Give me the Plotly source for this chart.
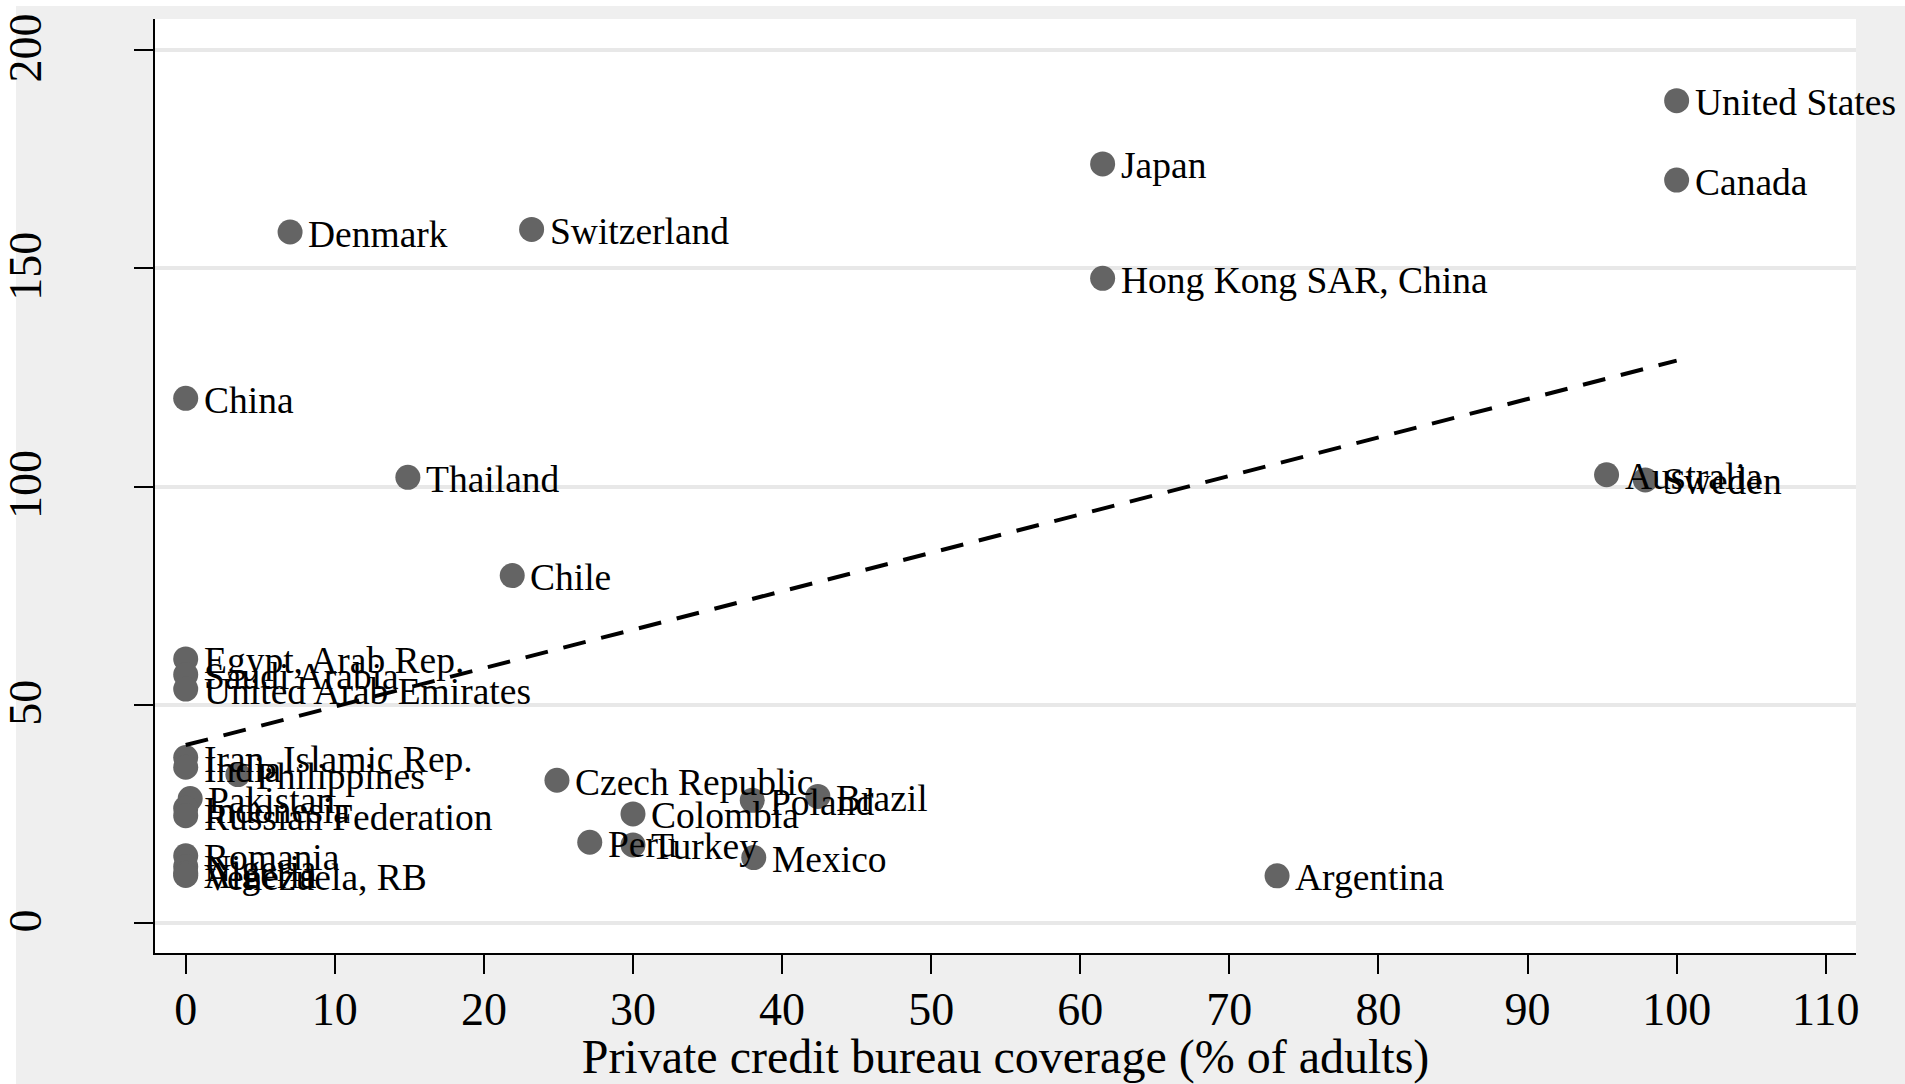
import numpy as np
import plotly.graph_objects as go

# Countries and their values
countries = [
    "United States", "Canada", "Japan", "Hong Kong SAR, China", "Denmark",
    "Switzerland", "China", "Thailand", "Chile", "Australia", "Sweden",
    "Egypt, Arab Rep.", "Saudi Arabia", "United Arab Emirates",
    "Iran, Islamic Rep.", "India", "Philippines", "Pakistan", "Indonesia",
    "Russian Federation", "Romania", "Nigeria", "Algeria", "Venezuela, RB",
    "Czech Republic", "Colombia", "Poland", "Brazil", "Peru", "Turkey",
    "Mexico", "Argentina",
]
bureau_coverage = [
    100.0, 100.0, 61.5, 61.5, 7.0,
    23.2, 0.0, 14.9, 21.9, 95.3, 97.9,
    0.0, 0.0, 0.0,
    0.0, 0.0, 3.5, 0.3, 0.0,
    0.0, 0.0, 0.0, 0.0, 0.0,
    24.9, 30.0, 38.0, 42.4, 27.1, 30.0,
    38.1, 73.2,
]
private_credit = [
    188.4, 170.2, 173.9, 147.7, 158.3,
    158.9, 120.2, 102.1, 79.6, 102.7, 101.5,
    60.5, 56.9, 53.6,
    37.9, 35.7, 34.0, 28.5, 26.3,
    24.6, 15.4, 12.9, 11.4, 10.9,
    32.7, 25.0, 28.1, 29.0, 18.5, 17.9,
    15.0, 10.8,
]

x_ticks = list(range(0, 111, 10))
y_ticks = [0, 50, 100, 150, 200]

FONT = "Liberation Serif"

# Linear fit of credit on bureau coverage, drawn over the observed x-range
slope, intercept = np.polyfit(bureau_coverage, private_credit, 1)
fit_x = np.array([min(bureau_coverage), max(bureau_coverage)])
fit_y = intercept + slope * fit_x

fig = go.Figure()

fig.add_trace(go.Scatter(
    x=bureau_coverage, y=private_credit, mode="markers",
    marker=dict(size=25, color="#646464", line=dict(width=0)),
    cliponaxis=False, showlegend=False,
))

fig.add_trace(go.Scatter(
    x=fit_x, y=fit_y, mode="lines",
    line=dict(color="black", width=4, dash="23px,16px"),
    showlegend=False,
))

# Country names placed just to the right of each marker
for name, xv, yv in zip(countries, bureau_coverage, private_credit):
    fig.add_annotation(
        x=xv, y=yv, text=name, showarrow=False,
        xanchor="left", yanchor="middle", xshift=16, yshift=-2,
        font=dict(family=FONT, size=37.5, color="black"),
    )

fig.update_layout(
    width=1905, height=1084,
    margin=dict(l=155, r=49, t=19, b=131),
    paper_bgcolor="#efefef", plot_bgcolor="white",
    font=dict(family=FONT, color="black"),
    shapes=[
        # thin white strips along the top and left edges of the page
        dict(type="rect", xref="paper", yref="paper", x0=-0.2, x1=1.2,
             y0=(953 - 6) / 934, y1=1.2, fillcolor="white", line_width=0,
             layer="below"),
        dict(type="rect", xref="paper", yref="paper", x0=-0.2,
             x1=(16 - 155) / 1701, y0=-0.3, y1=1.2, fillcolor="white",
             line_width=0, layer="below"),
    ],
)

fig.update_xaxes(
    range=[-2.06, 112.03], tickvals=x_ticks, ticktext=[str(v) for v in x_ticks],
    showgrid=False, zeroline=False, automargin=False,
    showline=True, linecolor="black", linewidth=2,
    ticks="outside", ticklen=19, tickwidth=2, tickcolor="black",
    ticklabelstandoff=-4,
    tickfont=dict(family=FONT, size=46, color="black"),
    title=dict(text="Private credit bureau coverage (% of adults)",
               font=dict(family=FONT, size=48, color="black"), standoff=19),
)

fig.update_yaxes(
    range=[-6.87, 207.1], tickvals=y_ticks, ticktext=[str(v) for v in y_ticks],
    showgrid=True, gridcolor="#e8e8e8", gridwidth=4, zeroline=False,
    automargin=False,
    showline=True, linecolor="black", linewidth=2,
    ticks="outside", ticklen=19, tickwidth=2, tickcolor="black",
    tickangle=-90, ticklabelstandoff=75, ticklabelshift=5,
    tickfont=dict(family=FONT, size=46, color="black"),
)

fig.write_html("out.html")
